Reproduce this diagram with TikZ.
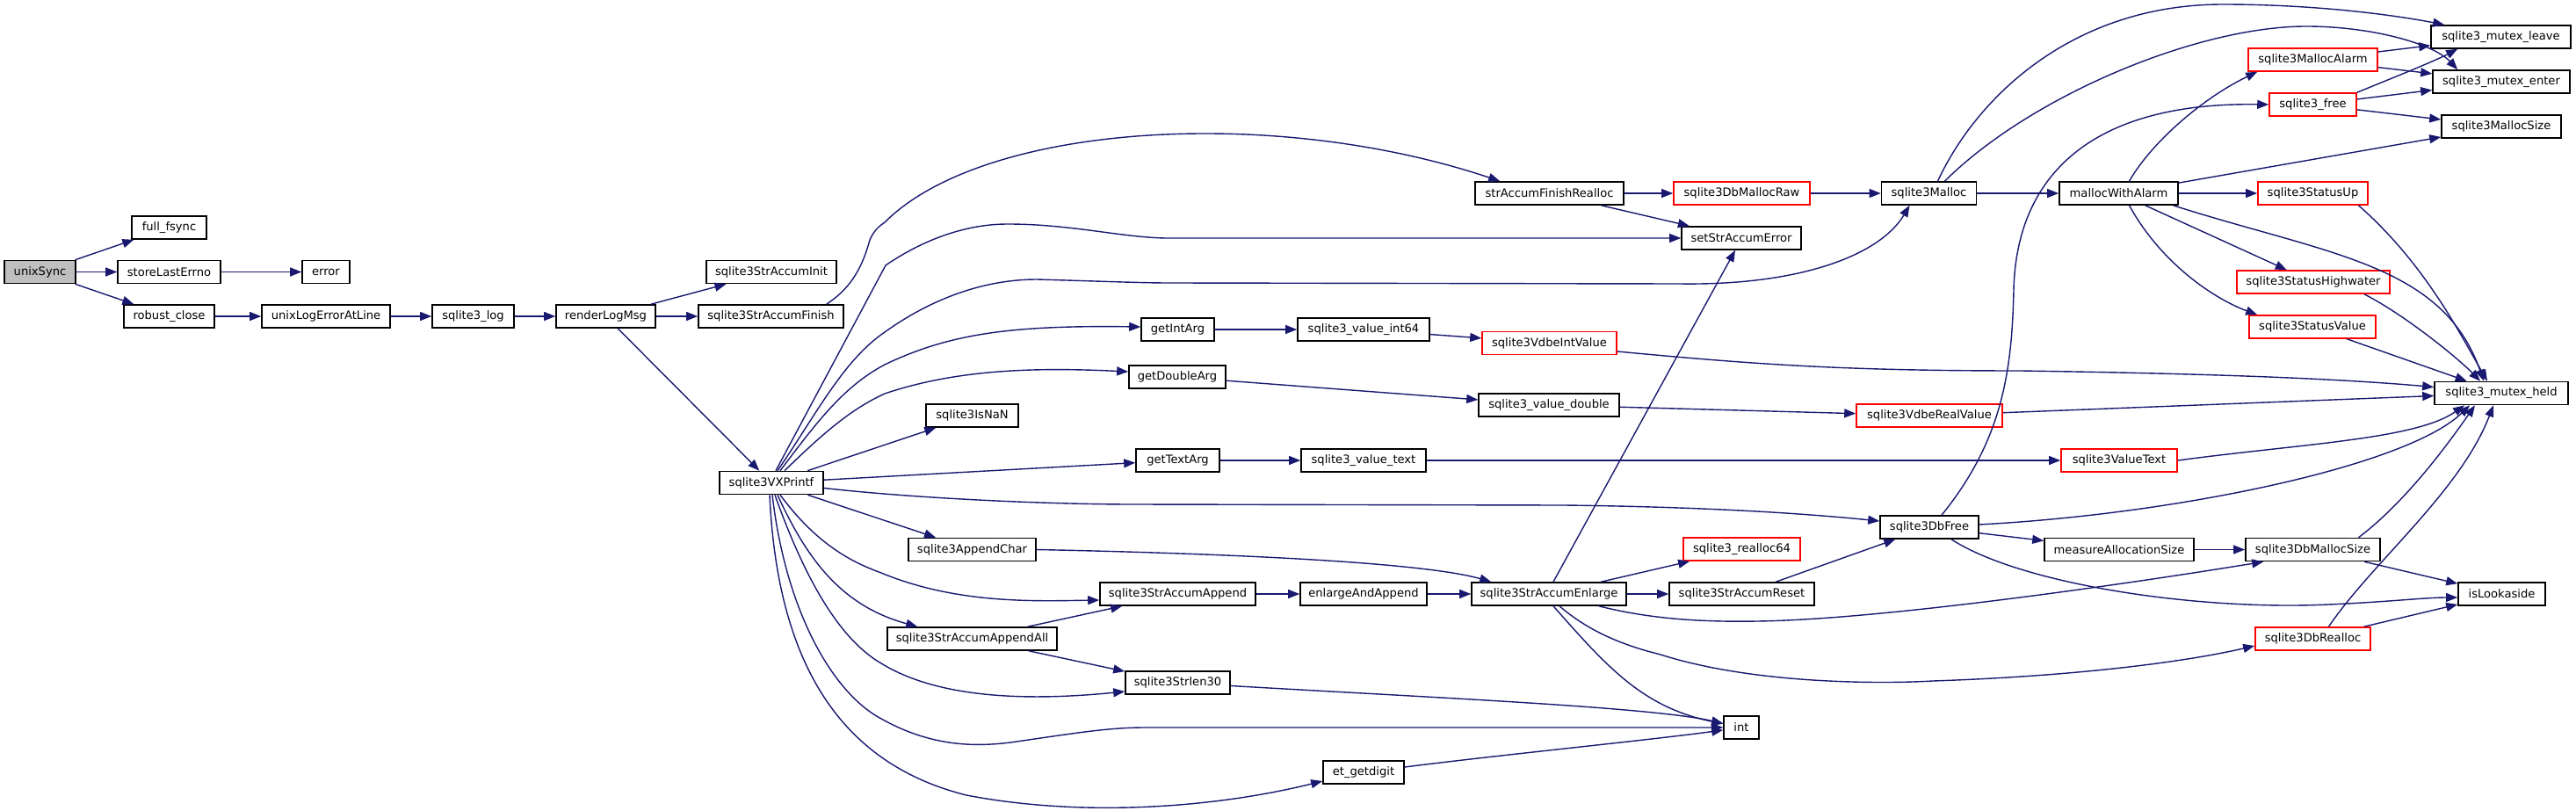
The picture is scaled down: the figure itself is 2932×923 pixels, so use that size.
\documentclass[tikz,border=0pt]{standalone}
\usepackage{fontspec}
\setmainfont{DejaVu Sans}
\usetikzlibrary{arrows.meta,calc}
\definecolor{edgec}{HTML}{191970}
\definecolor{grayfill}{HTML}{BFBFBF}
\begin{document}
\begin{tikzpicture}[x=1pt,y=-1pt,
  box/.style={draw=black, fill=white, line width=1.6pt, minimum height=26pt, inner sep=0pt, font=\fontsize{13.1}{15}\selectfont},
  redbox/.style={box, draw=red},
  graybox/.style={box, fill=grayfill},
  edge/.style={draw=edgec, line width=1.4pt, -{Triangle[length=13pt,width=10pt]}}]
\useasboundingbox (0,0) rectangle (2932,923);

% nodes
\node[graybox, minimum width=81] (unixSync) at (45.5,309.5) {unixSync};
\node[box, minimum width=85] (fsync) at (192.5,259) {full\_fsync};
\node[box, minimum width=117] (storeErr) at (192.5,309.5) {storeLastErrno};
\node[box, minimum width=54] (error) at (371,309.5) {error};
\node[box, minimum width=103] (robust) at (192.5,360) {robust\_close};
\node[box, minimum width=146] (unixLog) at (371,360) {unixLogErrorAtLine};
\node[box, minimum width=93] (log) at (538.5,360) {sqlite3\_log};
\node[box, minimum width=113] (render) at (689.5,360) {renderLogMsg};
\node[box, minimum width=148] (init) at (878,309.5) {sqlite3StrAccumInit};
\node[box, minimum width=165] (finish) at (877.5,360) {sqlite3StrAccumFinish};
\node[box, minimum width=118] (vx) at (878,549.5) {sqlite3VXPrintf};
\node[box, minimum width=169] (far) at (1763.5,220) {strAccumFinishRealloc};
\node[redbox, minimum width=155] (dbMallocRaw) at (1982.5,220) {sqlite3DbMallocRaw};
\node[box, minimum width=136] (setErr) at (1982,271) {setStrAccumError};
\node[box, minimum width=108] (malloc) at (2195.5,220) {sqlite3Malloc};
\node[box, minimum width=135] (mwa) at (2411.5,220) {mallocWithAlarm};
\node[redbox, minimum width=125] (statusUp) at (2632.5,220) {sqlite3StatusUp};
\node[box, minimum width=159] (mleave) at (2846.5,42) {sqlite3\_mutex\_leave};
\node[redbox, minimum width=147] (mallocAlarm) at (2632.5,68) {sqlite3MallocAlarm};
\node[box, minimum width=156] (menter) at (2847,93) {sqlite3\_mutex\_enter};
\node[redbox, minimum width=99] (free) at (2632.5,119) {sqlite3\_free};
\node[box, minimum width=136] (mallocSize) at (2847,144) {sqlite3MallocSize};
\node[redbox, minimum width=174] (highwater) at (2633,321) {sqlite3StatusHighwater};
\node[redbox, minimum width=144] (statusValue) at (2632,372) {sqlite3StatusValue};
\node[box, minimum width=152] (held) at (2847,447.5) {sqlite3\_mutex\_held};
\node[box, minimum width=83] (getInt) at (1340.5,375) {getIntArg};
\node[box, minimum width=150] (vint64) at (1552,375) {sqlite3\_value\_int64};
\node[redbox, minimum width=153] (vdbeInt) at (1763.5,390.5) {sqlite3VdbeIntValue};
\node[box, minimum width=110] (getDouble) at (1340,429) {getDoubleArg};
\node[box, minimum width=160] (vdouble) at (1763,461) {sqlite3\_value\_double};
\node[redbox, minimum width=166] (vdbeReal) at (2196,473) {sqlite3VdbeRealValue};
\node[box, minimum width=105] (isNaN) at (1106.5,473) {sqlite3IsNaN};
\node[box, minimum width=95] (getText) at (1340.5,524) {getTextArg};
\node[box, minimum width=142] (vtext) at (1552,524) {sqlite3\_value\_text};
\node[redbox, minimum width=132] (valueText) at (2412,524) {sqlite3ValueText};
\node[box, minimum width=145] (appendChar) at (1106.5,625.5) {sqlite3AppendChar};
\node[box, minimum width=112] (dbFree) at (2196,600) {sqlite3DbFree};
\node[redbox, minimum width=133] (realloc64) at (1982.5,625) {sqlite3\_realloc64};
\node[box, minimum width=170] (measure) at (2412,625.5) {measureAllocationSize};
\node[box, minimum width=153] (dbMallocSize) at (2632.5,625.5) {sqlite3DbMallocSize};
\node[box, minimum width=177] (append) at (1340.5,676) {sqlite3StrAccumAppend};
\node[box, minimum width=144] (enlargeApp) at (1552,676) {enlargeAndAppend};
\node[box, minimum width=176] (enlarge) at (1763,676) {sqlite3StrAccumEnlarge};
\node[box, minimum width=165] (reset) at (1982.5,676) {sqlite3StrAccumReset};
\node[box, minimum width=99] (isLook) at (2847.5,676) {isLookaside};
\node[box, minimum width=193] (appendAll) at (1106.5,727) {sqlite3StrAccumAppendAll};
\node[redbox, minimum width=131] (dbRealloc) at (2632.5,727) {sqlite3DbRealloc};
\node[box, minimum width=119] (strlen) at (1340.5,777) {sqlite3Strlen30};
\node[box, minimum width=40] (int) at (1982,828) {int};
\node[box, minimum width=92] (etg) at (1552,879) {et\_getdigit};

% left part
\draw[edge] (unixSync) -- (fsync);
\draw[edge] (unixSync) -- (storeErr);
\draw[edge] (unixSync) -- (robust);
\draw[edge] (storeErr) -- (error);
\draw[edge] (robust) -- (unixLog);
\draw[edge] (unixLog) -- (log);
\draw[edge] (log) -- (render);
\draw[edge] (render) -- (init);
\draw[edge] (render) -- (finish);
\draw[edge] (render) -- (vx);

\draw[edge] ($(finish.north east)+(-20,0)$) .. controls (965,330) and (980,310) .. (990,273)
  .. controls (995,262) and (1000,258) .. (1007,253)
  .. controls (1120,140) and (1450,120) .. ($(far.north west)+(29,0)$);
\draw[edge] (far) -- (dbMallocRaw);
\draw[edge] (far) -- (setErr);
\draw[edge] (dbMallocRaw) -- (malloc);
\draw[edge] (malloc) -- (mwa);
\draw[edge] ($(malloc.north)+(10,0)$) .. controls (2250,110) and (2360,5) .. (2530,5)
  .. controls (2640,5) and (2730,18) .. ($(mleave.north west)+(16,0)$);
\draw[edge] ($(malloc.north)+(18,0)$) .. controls (2310,110) and (2500,30) .. (2625,30)
  .. controls (2700,30) and (2770,50) .. ($(menter.north west)+(29,0)$);
\draw[edge] ($(mwa.north)+(12,0)$) .. controls (2450,160) and (2510,110) .. ($(mallocAlarm.south west)+(11,0)$);
\draw[edge] (mwa) -- (mallocSize);
\draw[edge] (mwa) -- (statusUp);
\draw[edge] (mwa) -- (highwater);
\draw[edge] ($(mwa.south)+(12,0)$) .. controls (2460,300) and (2520,340) .. ($(statusValue.north west)+(10,0)$);
\draw[edge] ($(mwa.south)+(62,0)$) .. controls (2650,290) and (2780,300) .. ($(held.north)+(-20,0)$);
\draw[edge] (mallocAlarm) -- (mleave);
\draw[edge] (mallocAlarm) -- (menter);
\draw[edge] (free.north east) .. controls (2720,90) and (2770,70) .. ($(mleave.south west)+(31,0)$);
\draw[edge] (free) -- (menter);
\draw[edge] (free) -- (mallocSize);
\draw[edge] ($(statusUp.south)+(52,0)$) .. controls (2760,300) and (2800,380) .. ($(held.north)+(-16,0)$);
\draw[edge] ($(highwater.south)+(58,0)$) .. controls (2740,360) and (2800,410) .. ($(held.north)+(-24,0)$);
\draw[edge] (statusValue) -- (held);

% VXPrintf fan-out
\draw[edge] ($(vx.north)+(5,0)$) -- (1008,302)
  .. controls (1040,280) and (1090,255) .. (1147,255)
  .. controls (1220,255) and (1280,271) .. (1330,271) -- (setErr);
\draw[edge] ($(vx.north)+(7,0)$) .. controls (930,470) and (960,410) .. (1007,378)
  .. controls (1060,340) and (1120,318) .. (1180,318)
  .. controls (1250,320) and (1300,322) .. (1330,322) -- (1912,323)
  .. controls (2050,325) and (2140,290) .. ($(malloc.south)+(-22,0)$);
\draw[edge] ($(vx.north)+(10,0)$) .. controls (930,480) and (960,440) .. (1007,415)
  .. controls (1080,380) and (1150,370) .. ($(getInt.west)+(0,-3)$);
\draw[edge] ($(vx.north)+(15,0)$) .. controls (940,490) and (970,465) .. (1007,448)
  .. controls (1090,420) and (1180,418) .. ($(getDouble.west)+(0,-6)$);
\draw[edge] (vx) -- (isNaN);
\draw[edge] (vx) -- (getText);
\draw[edge] ($(vx.east)+(0,6)$) .. controls (1050,568) and (1200,574) .. (1290,574) -- (1780,575)
  .. controls (1950,577) and (2060,585) .. ($(dbFree.west)+(0,-7)$);
\draw[edge] (vx) -- (appendChar);
\draw[edge] ($(vx.south)+(10,0)$) .. controls (930,620) and (970,640) .. (1003,652)
  .. controls (1090,688) and (1180,684) .. ($(append.west)+(0,7)$);
\draw[edge] ($(vx.south)+(7,0)$) .. controls (920,640) and (960,690) .. ($(appendAll.north west)+(35,0)$);
\draw[edge] ($(vx.south)+(4,0)$) .. controls (920,670) and (960,730) .. (1003,755)
  .. controls (1060,790) and (1150,800) .. ($(strlen.west)+(0,10)$);
\draw[edge] ($(vx.south)+(1,0)$) .. controls (895,700) and (950,790) .. (1003,818)
  .. controls (1060,850) and (1110,850) .. (1150,845)
  .. controls (1220,835) and (1260,828) .. (1303,828) -- (int);
\draw[edge] ($(vx.south)+(-2,0)$) .. controls (885,760) and (960,870) .. (1100,905)
  .. controls (1230,930) and (1380,920) .. ($(etg.west)+(0,10)$);

% middle chains
\draw[edge] (getInt) -- (vint64);
\draw[edge] (vint64) -- (vdbeInt);
\draw[edge] (getDouble) -- (vdouble);
\draw[edge] (vdouble) -- (vdbeReal);
\draw[edge] (getText) -- (vtext);
\draw[edge] (vtext) -- (valueText);
\draw[edge] (appendChar.east) .. controls (1400,630) and (1620,640) .. ($(enlarge.north west)+(23,0)$);
\draw[edge] (append) -- (enlargeApp);
\draw[edge] (enlargeApp) -- (enlarge);
\draw[edge] (appendAll) -- (append);
\draw[edge] (appendAll) -- (strlen);
\draw[edge] (strlen) .. controls (1650,795) and (1880,805) .. (int);
\draw[edge] (etg) .. controls (1700,860) and (1880,842) .. (int);

% enlarge fan-out
\draw[edge] ($(enlarge.north)+(5,0)$) -- ($(setErr.south)+(-7,0)$);
\draw[edge] (enlarge) -- (realloc64);
\draw[edge] (enlarge) -- (reset);
\draw[edge] ($(enlarge.south)+(57,0)$) .. controls (1880,705) and (1940,708) .. (2000,707)
  .. controls (2150,705) and (2450,660) .. ($(dbMallocSize.south west)+(21,0)$);
\draw[edge] ($(enlarge.south)+(12,0)$) .. controls (1810,720) and (1850,735) .. (1890,745)
  .. controls (2000,780) and (2150,778) .. (2200,775)
  .. controls (2350,770) and (2480,755) .. ($(dbRealloc.west)+(0,8)$);
\draw[edge] ($(enlarge.south)+(5,0)$) .. controls (1830,760) and (1870,805) .. (int);
\draw[edge] (reset) -- (dbFree);

% dbFree etc
\draw[edge] ($(dbFree.north)+(14,0)$) .. controls (2280,500) and (2290,420) .. (2292,330)
  .. controls (2295,200) and (2380,116) .. (free.west);
\draw[edge] (dbFree) -- (measure);
\draw[edge] ($(dbFree.south)+(25,0)$) .. controls (2300,665) and (2500,695) .. (2650,688)
  .. controls (2720,685) and (2760,680) .. ($(isLook.west)+(0,4)$);
\draw[edge] ($(dbFree.east)+(0,-3)$) .. controls (2480,585) and (2740,530) .. ($(held.south)+(-36,0)$);
\draw[edge] (measure) -- (dbMallocSize);
\draw[edge] (dbMallocSize) -- (isLook);
\draw[edge] ($(dbMallocSize.north)+(52,0)$) .. controls (2740,570) and (2790,500) .. ($(held.south)+(-30,0)$);
\draw[edge] (dbRealloc) -- (isLook);
\draw[edge] ($(dbRealloc.north)+(18,0)$) .. controls (2700,640) and (2800,560) .. ($(held.south)+(-9,0)$);
\draw[edge] (valueText.east) .. controls (2620,505) and (2750,500) .. ($(held.south)+(-42,0)$);
\draw[edge] (vdbeReal) -- (held);
\draw[edge] ($(vdbeInt.east)+(0,9.5)$) .. controls (2000,415) and (2100,422) .. (2300,422)
  .. controls (2500,425) and (2650,430) .. ($(held.west)+(0,-7)$);
\end{tikzpicture}
\end{document}
